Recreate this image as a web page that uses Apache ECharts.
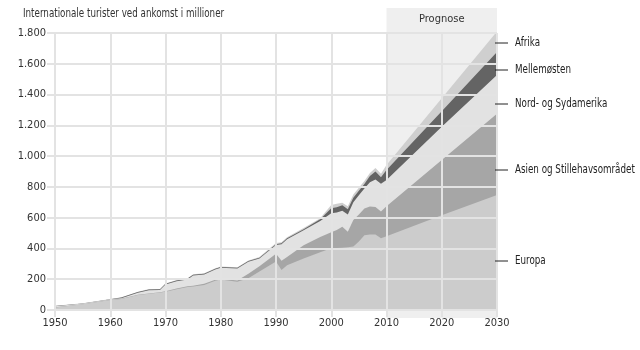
<!DOCTYPE html>
<html>
<head>
<meta charset="utf-8">
<script src="https://cdn.jsdelivr.net/npm/echarts@6/dist/echarts.min.js"></script>
<style>
  html, body { margin: 0; padding: 0; background: #fff; }
  #chart { width: 640px; height: 350px; }
</style>
</head>
<body>
<div id="chart"></div>
<script>
// år (x-akse)
const years = [1950, 1955, 1960, 1962, 1965, 1967, 1969, 1970, 1972, 1974, 1975, 1977, 1979, 1980, 1983, 1985, 1987,
  1990, 1991, 1992, 1995, 1998, 2000, 2001, 2002, 2003, 2004, 2005, 2006, 2007, 2008, 2009, 2010, 2020, 2030]

// ankomster i millioner pr. region (stakket nedefra og op)
const europa = [17, 37, 65, 72, 97, 105, 113, 119, 135, 150, 152, 162, 190, 199, 184, 206, 250,
  315, 260, 290, 335, 375, 401, 403, 405, 408, 413, 445, 485, 490, 490, 466, 480, 615, 747]
const asien = [1, 1, 1, 1, 2, 2, 2, 3, 4, 5, 6, 8, 7, 6, 8, 30, 35,
  50, 60, 55, 85, 100, 104, 117, 136, 101, 172, 175, 175, 182, 180, 174, 195, 360, 528]
const amerika = [7, 4, 4, 3, 13, 22, 15, 43, 48, 44, 66, 61, 66, 70, 77, 77, 50,
  57, 107, 115, 98, 104, 123, 113, 104, 111, 115, 125, 130, 158, 178, 180, 170, 215, 252]
const mellemosten = [0.5, 0.5, 0.5, 5, 5, 5, 5, 5, 5, 5, 5, 5, 5, 5, 5, 5, 5,
  6, 6, 6, 7, 10, 34, 35, 35, 35, 30, 30, 28, 40, 52, 42, 65, 102, 149]
const afrika = [1.5, 1.5, 1.5, 2, 2, 2, 2, 3, 3, 3, 3, 3, 3, 3, 3, 4, 5,
  7, 7, 7, 8, 8, 20, 22, 17, 20, 20, 20, 20, 20, 22, 23, 32, 84, 134]

// prognoseperiode
const forecastStart = 2010
const forecastEnd = 2030

// y-akse ticks
const yTicks = [0, 200, 400, 600, 800, 1000, 1200, 1400, 1600, 1800]

const FONT = "'DejaVu Sans Condensed', 'Roboto', sans-serif"
const GRID_COLOR = '#e3e3e3'

const regions = [
  { name: 'Europa', data: europa, color: '#cccccc' },
  { name: 'Asien og Stillehavsområdet', data: asien, color: '#a6a6a6' },
  { name: 'Nord- og Sydamerika', data: amerika, color: '#e2e2e2' },
  { name: 'Mellemøsten', data: mellemosten, color: '#646464' },
  { name: 'Afrika', data: afrika, color: '#cfcfcf' }
]

// kumulerede værdier (stak), tegnes øverste lag først
const running = years.map(() => 0)
regions.forEach(r => {
  r.cum = years.map((y, i) => {
    running[i] += r.data[i]
    return [y, running[i]]
  })
})

// dansk tusindtalsseparator
function fmt(v) {
  return String(v).replace(/\B(?=(\d{3})+(?!\d))/g, '.')
}

const chart = echarts.init(document.getElementById('chart'), null, { renderer: 'canvas' })

// højre side etiketter (placering i pixels)
const sideLabels = [
  { text: 'Afrika', y: 43 },
  { text: 'Mellemøsten', y: 70 },
  { text: 'Nord- og Sydamerika', y: 104 },
  { text: 'Asien og Stillehavsområdet', y: 170 },
  { text: 'Europa', y: 261 }
]
const graphics = [{
  type: 'text',
  x: 23,
  y: 14,
  scaleX: 0.81,
  style: {
    text: 'Internationale turister ved ankomst i millioner',
    font: '12px ' + FONT,
    fill: '#333',
    textVerticalAlign: 'middle'
  }
}]
sideLabels.forEach(l => {
  graphics.push({
    type: 'line',
    shape: { x1: 495, y1: l.y, x2: 508, y2: l.y },
    style: { stroke: '#222', lineWidth: 1 },
    z: 10
  })
  graphics.push({
    type: 'text',
    x: 515,
    y: l.y,
    scaleX: 0.81,
    style: { text: l.text, font: '12px ' + FONT, fill: '#222', textVerticalAlign: 'middle' },
    z: 10
  })
})

const series = regions.slice().reverse().map(r => ({
  name: r.name,
  type: 'line',
  xAxisIndex: 0,
  yAxisIndex: 0,
  data: r.cum,
  showSymbol: false,
  symbol: 'none',
  lineStyle: { width: 0 },
  areaStyle: { color: r.color, opacity: 1 },
  itemStyle: { color: r.color },
  z: 2,
  silent: true,
  animation: false
}))

// prognosebånd i eget grid (går ud over plotområdet)
series.push({
  type: 'line',
  xAxisIndex: 1,
  yAxisIndex: 1,
  data: [[forecastStart, 0]],
  showSymbol: false,
  lineStyle: { opacity: 0 },
  z: 0,
  silent: true,
  animation: false,
  markArea: {
    silent: true,
    z: 0,
    itemStyle: { color: '#efefef' },
    label: {
      show: true,
      position: 'insideTop',
      distance: 6,
      color: '#333',
      fontSize: 11,
      fontFamily: FONT
    },
    data: [[{ name: 'Prognose', xAxis: forecastStart }, { xAxis: forecastEnd }]]
  }
})

chart.setOption({
  animation: false,
  backgroundColor: '#fff',
  graphic: graphics,
  grid: [
    { left: 55, right: 143, top: 33, bottom: 40 },
    { left: 55, right: 143, top: 8, bottom: 32 }
  ],
  xAxis: [{
    type: 'value',
    gridIndex: 0,
    min: 1950,
    max: 2030,
    interval: 10,
    z: 3,
    axisLine: { show: false },
    axisTick: { show: true, length: 7, lineStyle: { color: GRID_COLOR, width: 2 } },
    axisLabel: { color: '#333', fontSize: 11, fontFamily: FONT, margin: 8, formatter: v => String(v) },
    splitLine: { show: true, lineStyle: { color: GRID_COLOR, width: 2 } }
  }, {
    type: 'value',
    gridIndex: 1,
    min: 1950,
    max: 2030,
    show: false
  }],
  yAxis: [{
    type: 'value',
    gridIndex: 0,
    min: yTicks[0],
    max: yTicks[yTicks.length - 1],
    interval: 200,
    z: 3,
    axisLine: { show: false },
    axisTick: { show: true, length: 8, lineStyle: { color: GRID_COLOR, width: 2 } },
    axisLabel: { color: '#333', fontSize: 11, fontFamily: FONT, margin: 9, formatter: v => fmt(v) },
    splitLine: { show: true, lineStyle: { color: GRID_COLOR, width: 2 } }
  }, {
    type: 'value',
    gridIndex: 1,
    min: 0,
    max: 1,
    show: false
  }],
  series: series
})
</script>
</body>
</html>
